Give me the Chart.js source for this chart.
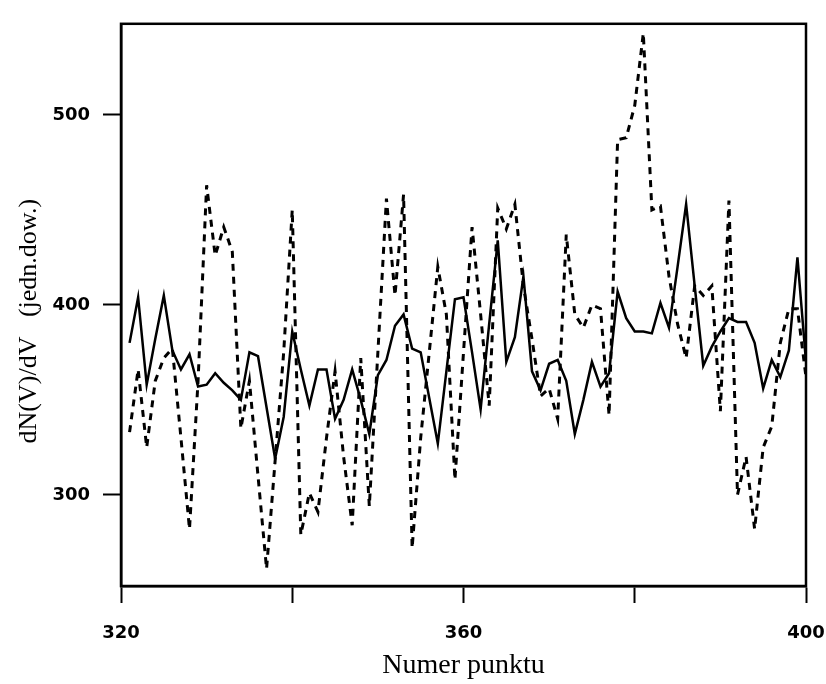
<!DOCTYPE html>
<html lang="pl">
<head>
<meta charset="utf-8">
<title>dN(V)/dV</title>
<script src="https://cdn.jsdelivr.net/npm/chart.js@4.4.1/dist/chart.umd.min.js"></script>
<style>
    html, body { margin: 0; padding: 0; background: #fff; }
    #chartBox { width: 826px; height: 684px; }
</style>
</head>
<body>
<div id="chartBox"><canvas id="spectrumChart" width="826" height="684"></canvas></div>
<script>
// Point numbers (x) and the two measured curves
const pointNumbers = [
    321, 322, 323, 324, 325, 326, 327, 328, 329, 330,
    331, 332, 333, 334, 335, 336, 337, 338, 339, 340,
    341, 342, 343, 344, 345, 346, 347, 348, 349, 350,
    351, 352, 353, 354, 355, 356, 357, 358, 359, 360,
    361, 362, 363, 364, 365, 366, 367, 368, 369, 370,
    371, 372, 373, 374, 375, 376, 377, 378, 379, 380,
    381, 382, 383, 384, 385, 386, 387, 388, 389, 390,
    391, 392, 393, 394, 395, 396, 397, 398, 399, 400
];

const solidValues = [
    380, 404, 358, 382, 405, 376, 366, 374, 357, 358,
    364, 359, 355, 350, 375, 373, 346, 319, 341, 386,
    366, 347, 366, 366, 340, 350, 366, 350, 332, 363,
    371, 389, 395, 377, 375, 351, 327, 365, 403, 404,
    375, 345, 390, 434, 370, 383, 415, 365, 355, 369,
    371, 360, 332, 350, 370, 357, 364, 407, 393, 386,
    386, 385, 401, 388, 420, 453, 410, 368, 378, 386,
    393, 391, 391, 380, 356, 371, 362, 376, 425, 370
];

const dashedValues = [
    333, 366, 325, 360, 372, 377, 330, 282, 360, 463,
    426, 441, 428, 335, 360, 310, 261, 318, 375, 450,
    279, 301, 291, 330, 365, 320, 284, 372, 294, 375,
    456, 405, 458, 272, 330, 375, 420, 395, 308, 375,
    441, 395, 347, 451, 440, 453, 410, 382, 352, 356,
    340, 437, 395, 388, 400, 398, 342, 487, 488, 505,
    543, 450, 452, 415, 390, 372, 410, 405, 410, 344,
    455, 300, 320, 282, 325, 336, 380, 398, 398, 362
];

// Axis ticks
const xTicks = [320, 340, 360, 380, 400];
const xTickLabels = ['320', '', '360', '', '400'];
const yTicks = [300, 400, 500];

function toPoints(values) {
    return pointNumbers.map((x, i) => ({ x: x, y: values[i] }));
}

// closes the frame on the top and right sides
const frameBox = {
    id: 'frameBox',
    afterDraw(chart) {
        const { ctx, chartArea } = chart;
        ctx.save();
        ctx.strokeStyle = '#000';
        ctx.lineWidth = 2.5;
        ctx.strokeRect(chartArea.left, chartArea.top,
            chartArea.right - chartArea.left, chartArea.bottom - chartArea.top);
        ctx.restore();
    }
};

const tickFont = { family: 'DejaVu Sans', size: 18, weight: 'bold' };

document.addEventListener('DOMContentLoaded', function() {
    const ctx = document.getElementById('spectrumChart').getContext('2d');

    new Chart(ctx, {
        type: 'line',
        data: {
            datasets: [{
                data: toPoints(solidValues),
                borderColor: '#000',
                borderWidth: 2.5,
                pointRadius: 0,
                tension: 0,
                fill: false
            }, {
                data: toPoints(dashedValues),
                borderColor: '#000',
                borderWidth: 3,
                borderDash: [7, 6],
                pointRadius: 0,
                tension: 0,
                fill: false
            }]
        },
        options: {
            responsive: false,
            animation: false,
            devicePixelRatio: 1,
            layout: { padding: { left: 0, top: 15, right: 20, bottom: 0 } },
            plugins: {
                legend: { display: false },
                tooltip: { enabled: false }
            },
            scales: {
                x: {
                    type: 'linear',
                    min: 320,
                    max: 400,
                    afterFit: (scale) => {
                        scale.height = 98;
                        // the end labels may hang past the frame
                        scale.paddingLeft = 0;
                        scale.paddingRight = 0;
                    },
                    afterBuildTicks: (scale) => {
                        scale.ticks = xTicks.map(v => ({ value: v }));
                    },
                    ticks: {
                        color: '#000',
                        font: tickFont,
                        padding: 20,
                        maxRotation: 0,
                        callback: (value) => xTickLabels[xTicks.indexOf(value)] || ''
                    },
                    grid: {
                        drawOnChartArea: false,
                        drawTicks: true,
                        tickLength: 17,
                        tickWidth: 2,
                        tickColor: '#000'
                    },
                    border: { display: true, color: '#000', width: 2.5 },
                    title: {
                        display: true,
                        text: 'Numer punktu',
                        color: '#000',
                        font: { family: 'Liberation Serif', size: 28 },
                        padding: { top: 0, bottom: 2 }
                    }
                },
                y: {
                    type: 'linear',
                    min: 252,
                    max: 548,
                    afterFit: (scale) => { scale.width = 121; },
                    afterBuildTicks: (scale) => {
                        scale.ticks = yTicks.map(v => ({ value: v }));
                    },
                    ticks: {
                        color: '#000',
                        font: tickFont,
                        padding: 13
                    },
                    grid: {
                        drawOnChartArea: false,
                        drawTicks: true,
                        tickLength: 18,
                        tickWidth: 2,
                        tickColor: '#000'
                    },
                    border: { display: true, color: '#000', width: 2.5 },
                    title: {
                        display: true,
                        text: 'dN(V)/dV   (jedn.dow.)     ',
                        color: '#000',
                        font: { family: 'Liberation Serif', size: 26 },
                        padding: { top: 14, bottom: 0 }
                    }
                }
            }
        },
        plugins: [frameBox]
    });
});
</script>
</body>
</html>
